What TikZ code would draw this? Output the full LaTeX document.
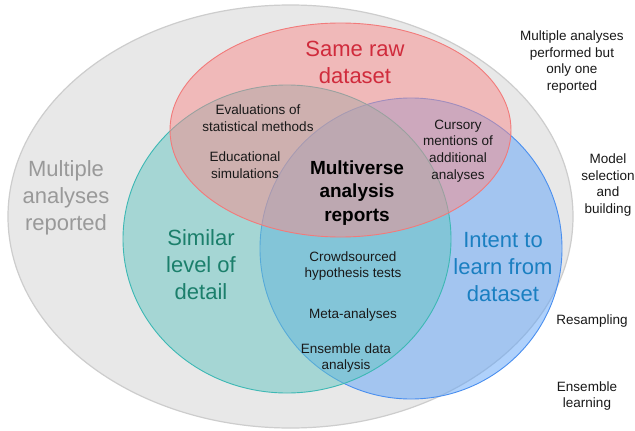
\documentclass[tikz,border=0pt]{standalone}
\usepackage{fontspec}
\setmainfont{Liberation Sans}
\definecolor{grayfill}{HTML}{E8E8E8}
\definecolor{graydraw}{HTML}{CDCDCD}
\definecolor{redfill}{HTML}{F88C8C}
\definecolor{reddraw}{HTML}{F27A7A}
\definecolor{tealfill}{HTML}{64C6C2}
\definecolor{tealdraw}{HTML}{3DB8B4}
\definecolor{bluefill}{HTML}{60A4F8}
\definecolor{bluedraw}{HTML}{4A8FEF}
\definecolor{redtext}{HTML}{D02B3C}
\definecolor{tealtext}{HTML}{1B7F6B}
\definecolor{bluetext}{HTML}{1A7FC1}
\definecolor{graytext}{HTML}{999999}
\tikzset{
  biglabel/.style={align=center, inner sep=0pt, font=\fontsize{22}{27}\selectfont},
  centerlabel/.style={align=center, inner sep=0pt, font=\fontsize{19}{23.5}\selectfont\bfseries},
  smalllabel/.style={align=center, inner sep=0pt, text=black!90, font=\fontsize{13.5}{16.7}\selectfont},
  setshape/.style={line width=0.9pt, fill opacity=0.5, draw opacity=1},
}
\begin{document}
\begin{tikzpicture}[x=1pt,y=-1pt]
\useasboundingbox (0,0) rectangle (635,431);
\fill[white] (0,0) rectangle (635,431);
% outer set
\draw[fill=grayfill, draw=graydraw, line width=1.2pt] (290.5,216.5) ellipse [x radius=282.5pt, y radius=211.5pt];
% blue
\draw[setshape, fill=bluefill, draw=bluedraw] (411,248.5) ellipse [x radius=151pt, y radius=150.5pt];
% teal
\draw[setshape, fill=tealfill, draw=tealdraw] (287,239) ellipse [x radius=164pt, y radius=154pt];
% red
\draw[setshape, fill=redfill, draw=reddraw] (340.5,130) ellipse [x radius=170.5pt, y radius=107pt];

\node[biglabel, text=redtext] (same) at (355,62) {Same raw\\dataset};
\node[biglabel, text=graytext] (multrep) at (66,198) {Multiple\\analyses\\reported};
\node[biglabel, text=tealtext] (similar) at (201,265) {Similar\\level of\\detail};
\node[biglabel, text=bluetext] (intent) at (503,267) {Intent to\\learn from\\dataset};
\node[centerlabel] (multiverse) at (357,193) {Multiverse\\analysis\\reports};

\node[smalllabel] (evals) at (258,118) {Evaluations of\\statistical methods};
\node[smalllabel] (edu) at (245,165) {Educational\\simulations};
\node[smalllabel] (cursory) at (458,151) {Cursory\\mentions of\\additional\\analyses};
\node[smalllabel] (crowd) at (353,266) {Crowdsourced\\hypothesis tests};
\node[smalllabel] (meta) at (353,315) {Meta-analyses};
\node[smalllabel] (ensda) at (346,358) {Ensemble data\\analysis};

\node[smalllabel] (onlyone) at (572,62) {Multiple analyses\\performed but\\only one\\reported};
\node[smalllabel] (model) at (608,185) {Model\\selection\\and\\building};
\node[smalllabel] (resamp) at (592,321) {Resampling};
\node[smalllabel] (enslearn) at (587,396) {Ensemble\\learning};
\end{tikzpicture}
\end{document}
